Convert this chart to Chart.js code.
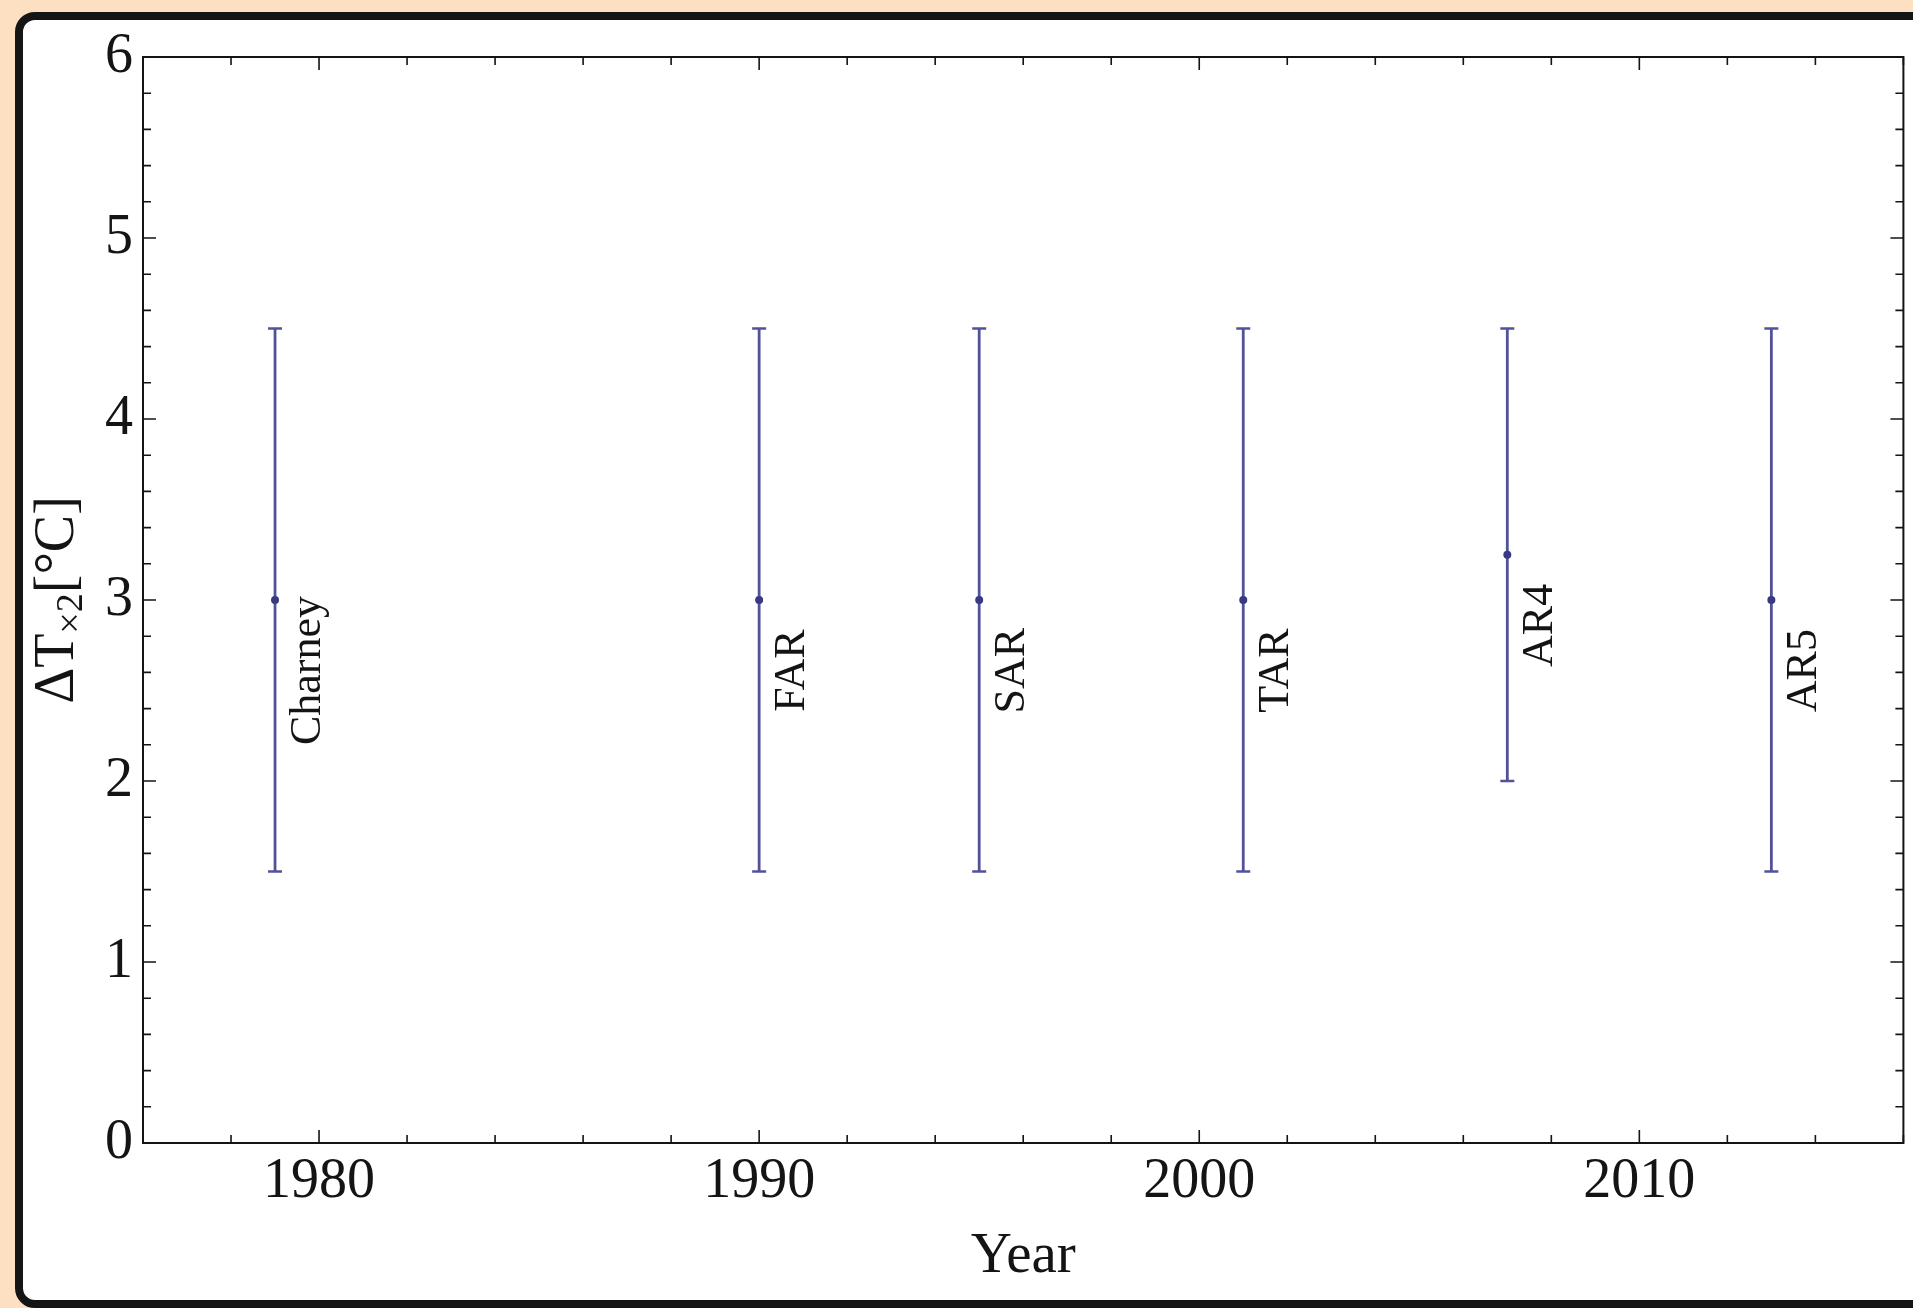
<!DOCTYPE html>
<html>
<head>
<meta charset="utf-8">
<title>Climate sensitivity estimates</title>
<script src="https://cdn.jsdelivr.net/npm/chart.js@4.4.1/dist/chart.umd.min.js"></script>
<style>
  html, body { margin: 0; padding: 0; background: #fddfc1; }
  canvas { display: block; }
</style>
</head>
<body>
<canvas id="chart" width="1913" height="1308"></canvas>
<script>
// Assessment reports and their equilibrium climate sensitivity ranges
const reports = ['Charney', 'FAR', 'SAR', 'TAR', 'AR4', 'AR5'];
const years = [1979, 1990, 1995, 2001, 2007, 2013];
const bestEstimate = [3, 3, 3, 3, 3.25, 3];
const rangeLow = [1.5, 1.5, 1.5, 1.5, 2, 1.5];
const rangeHigh = [4.5, 4.5, 4.5, 4.5, 4.5, 4.5];

// Axis ticks
const xTicks = [1980, 1990, 2000, 2010];
const yTicks = [0, 1, 2, 3, 4, 5, 6];

const SERIF = "'Liberation Serif', 'Times New Roman', serif";
const BAR_COLOR = '#52529a';
const DOT_COLOR = '#3a3a82';
const INK = '#141414';

// Vertical range bars with end caps
const rangeSets = reports.map((name, i) => ({
  label: name,
  data: [{ x: years[i], y: rangeLow[i] }, { x: years[i], y: rangeHigh[i] }],
  showLine: true,
  borderColor: BAR_COLOR,
  borderWidth: 2.8,
  pointStyle: 'line',
  pointRadius: 7,
  pointBorderWidth: 2.6,
  pointBorderColor: BAR_COLOR,
  pointBackgroundColor: BAR_COLOR,
  order: 2
}));

// Best estimate markers
const bestSet = {
  label: 'best',
  data: years.map((y, i) => ({ x: y, y: bestEstimate[i] })),
  showLine: false,
  pointStyle: 'circle',
  pointRadius: 4,
  pointBorderWidth: 0,
  pointBackgroundColor: DOT_COLOR,
  order: 1
};

// Page card behind the plot
const cardPlugin = {
  id: 'card',
  beforeDraw(chart) {
    const ctx = chart.ctx;
    ctx.save();
    ctx.fillStyle = '#fddfc1';
    ctx.fillRect(0, 0, chart.width, chart.height);
    ctx.beginPath();
    ctx.roundRect(19, 16, 1960, 1288, 16);
    ctx.fillStyle = '#ffffff';
    ctx.fill();
    ctx.lineWidth = 8;
    ctx.strokeStyle = '#151515';
    ctx.stroke();
    ctx.restore();
  }
};

// Frame with inward major and minor ticks on all four sides
const framePlugin = {
  id: 'frame',
  afterDatasetsDraw(chart) {
    const { ctx, chartArea: a, scales } = chart;
    const xs = scales.x, ys = scales.y;
    ctx.save();
    ctx.strokeStyle = INK;
    ctx.lineWidth = 2;
    ctx.strokeRect(a.left, a.top, a.right - a.left, a.bottom - a.top);
    ctx.lineWidth = 1.6;
    ctx.beginPath();
    for (let yr = xs.min; yr <= xs.max; yr += 2) {
      const px = xs.getPixelForValue(yr);
      const len = yr % 10 === 0 ? 13 : 8;
      ctx.moveTo(px, a.bottom); ctx.lineTo(px, a.bottom - len);
      ctx.moveTo(px, a.top); ctx.lineTo(px, a.top + len);
    }
    for (let i = 0; i <= ys.max * 5; i++) {
      const py = ys.getPixelForValue(i / 5);
      const len = i % 5 === 0 ? 13 : 8;
      ctx.moveTo(a.left, py); ctx.lineTo(a.left + len, py);
      ctx.moveTo(a.right, py); ctx.lineTo(a.right - len, py);
    }
    ctx.stroke();
    ctx.restore();
  }
};

// Rotated report names beside each bar
const nameLabelPlugin = {
  id: 'names',
  afterDatasetsDraw(chart) {
    const { ctx, scales } = chart;
    ctx.save();
    ctx.font = '44px ' + SERIF;
    ctx.fillStyle = INK;
    ctx.textAlign = 'center';
    ctx.textBaseline = 'alphabetic';
    reports.forEach((name, i) => {
      const px = scales.x.getPixelForValue(years[i]);
      const py = scales.y.getPixelForValue(bestEstimate[i] - 0.39);
      ctx.save();
      ctx.translate(px + 45, py);
      ctx.rotate(-Math.PI / 2);
      ctx.fillText(name, 0, 0);
      ctx.restore();
    });
    ctx.restore();
  }
};

// Y axis title with subscript: ΔT×2 [°C]
const yTitlePlugin = {
  id: 'ytitle',
  afterDraw(chart) {
    const { ctx, chartArea: a } = chart;
    const parts = [
      { t: '\u0394T', size: 56, dy: 0 },
      { t: '\u00d72', size: 38, dy: 9 },
      { t: '[\u00b0C]', size: 56, dy: 0 }
    ];
    ctx.save();
    let total = 0;
    parts.forEach(p => { ctx.font = p.size + 'px ' + SERIF; p.w = ctx.measureText(p.t).width; total += p.w; });
    ctx.translate(73, (a.top + a.bottom) / 2);
    ctx.rotate(-Math.PI / 2);
    ctx.fillStyle = INK;
    ctx.textBaseline = 'alphabetic';
    ctx.textAlign = 'left';
    let x = -total / 2;
    parts.forEach(p => {
      ctx.font = p.size + 'px ' + SERIF;
      ctx.fillText(p.t, x, p.dy);
      x += p.w;
    });
    ctx.restore();
  }
};

new Chart(document.getElementById('chart'), {
  type: 'scatter',
  data: { datasets: [...rangeSets, bestSet] },
  options: {
    responsive: false,
    animation: false,
    devicePixelRatio: 1,
    events: [],
    layout: { padding: { left: 0, right: 6, top: 57, bottom: 0 } },
    plugins: { legend: { display: false }, tooltip: { enabled: false } },
    scales: {
      x: {
        type: 'linear',
        min: 1976,
        max: 2016,
        afterBuildTicks: s => { s.ticks = xTicks.map(v => ({ value: v })); },
        afterFit: s => { s.height = 165; },
        grid: { display: false, drawTicks: false },
        border: { display: false },
        ticks: {
          padding: 6,
          color: INK,
          font: { family: SERIF, size: 56 },
          callback: v => String(v),
          maxRotation: 0,
          autoSkip: false
        },
        title: {
          display: true,
          text: 'Year',
          color: INK,
          font: { family: SERIF, size: 57 },
          padding: { top: 0, bottom: 17 }
        }
      },
      y: {
        type: 'linear',
        min: 0,
        max: 6,
        afterBuildTicks: s => { s.ticks = yTicks.map(v => ({ value: v })); },
        afterFit: s => { s.width = 143; },
        grid: { display: false, drawTicks: false },
        border: { display: false },
        ticks: {
          padding: 10,
          color: INK,
          font: { family: SERIF, size: 56 },
          callback: v => String(v)
        }
      }
    }
  },
  plugins: [cardPlugin, framePlugin, nameLabelPlugin, yTitlePlugin]
});
</script>
</body>
</html>
